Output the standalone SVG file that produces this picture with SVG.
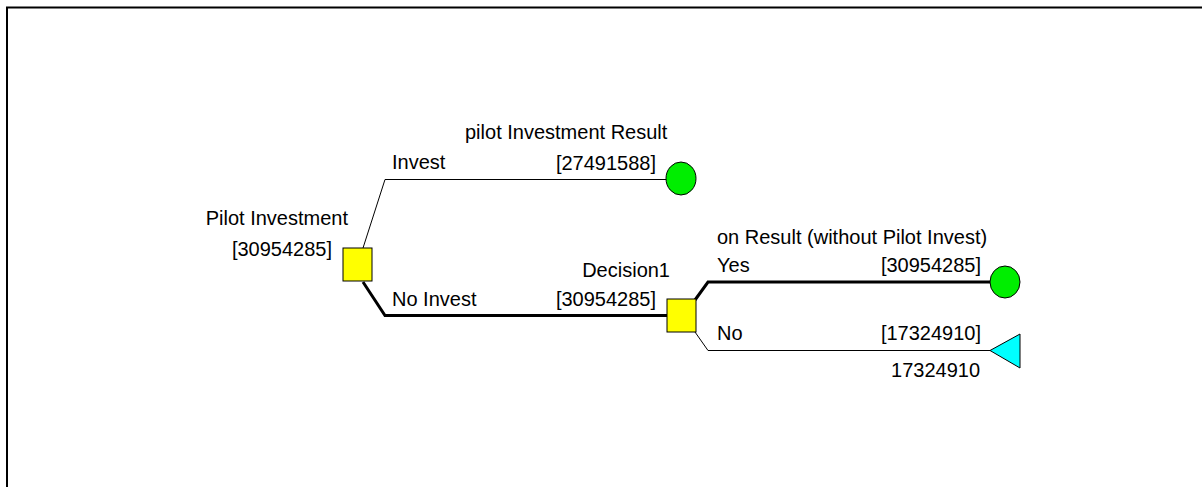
<svg xmlns="http://www.w3.org/2000/svg" width="1202" height="487" viewBox="0 0 1202 487">
<style>
text{font-family:"Liberation Sans",Arial,sans-serif;font-size:20px;fill:#000}
.e{text-anchor:end}
.thin{fill:none;stroke:#000;stroke-width:1}
.thick{fill:none;stroke:#000;stroke-width:3}
.dec{fill:#ffff00;stroke:#000;stroke-width:1}
.chance{fill:#00ee00;stroke:#000;stroke-width:1}
.term{fill:#00ffff;stroke:#000;stroke-width:1}
</style>
<rect width="1202" height="487" fill="#fff"/>
<path d="M7,487 V7.5 H1202" fill="none" stroke="#000" stroke-width="2"/>
<g id="connectors">
<path class="thin" d="M363,248 L385,179.5 H667"/>
<path class="thick" d="M363,282 L385,315.5 H667"/>
<path class="thick" d="M695,300 L708,282 H990"/>
<path class="thin" d="M695,332 L708,350.5 H990"/>
</g>
<g id="pilot-investment">
<rect class="dec" x="343" y="248" width="29" height="33"/>
<text class="e" x="348" y="225">Pilot Investment</text>
<text class="e" x="332" y="256">[30954285]</text>
</g>
<g id="invest-label">
<text x="392" y="169">Invest</text>
</g>
<g id="no-invest-label">
<text x="392" y="306">No Invest</text>
</g>
<g id="pilot-result">
<ellipse class="chance" cx="681" cy="178.5" rx="15" ry="16.5"/>
<text x="465" y="139">pilot Investment Result</text>
<text class="e" x="656" y="170">[27491588]</text>
</g>
<g id="decision1">
<rect class="dec" x="667" y="299" width="29" height="33"/>
<text class="e" x="670" y="277">Decision1</text>
<text class="e" x="656" y="306">[30954285]</text>
</g>
<g id="yes-result">
<ellipse class="chance" cx="1005" cy="282" rx="15" ry="16"/>
<text x="717" y="244">on Result (without Pilot Invest)</text>
<text x="717" y="272">Yes</text>
<text class="e" x="981" y="272">[30954285]</text>
</g>
<g id="no-terminal">
<polygon class="term" points="990,350.5 1020,334 1020,368"/>
<text x="717" y="340">No</text>
<text class="e" x="981" y="340">[17324910]</text>
<text class="e" x="980" y="377">17324910</text>
</g>
</svg>
